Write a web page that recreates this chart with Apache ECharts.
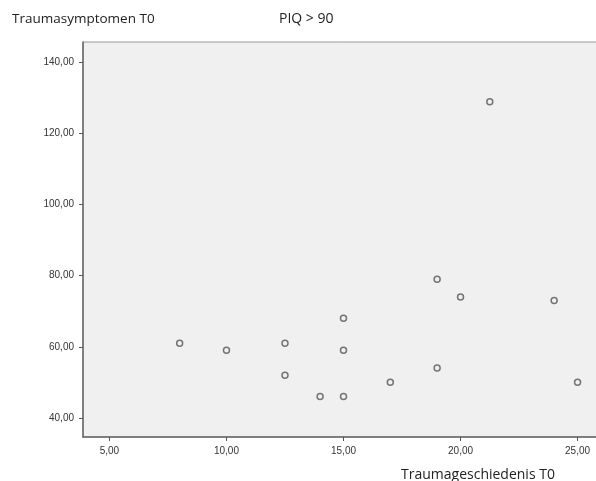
<!DOCTYPE html>
<html>
<head>
<meta charset="utf-8">
<script src="https://cdn.jsdelivr.net/npm/echarts@6/dist/echarts.min.js"></script>
<style>
  html, body { margin: 0; padding: 0; background: #fff; overflow: hidden; }
  #chart { width: 604px; height: 481px; }
</style>
</head>
<body>
<div id="chart"></div>
<script>
// Traumageschiedenis T0 (x) vs Traumasymptomen T0 (y), PIQ > 90
var geschiedenis = [8, 10, 12.5, 12.5, 14, 15, 15, 15, 17, 19, 19, 20, 21.25, 24, 25];
var symptomen = [61, 59, 61, 52, 46, 68, 59, 46, 50, 79, 54, 74, 129, 73, 50];
var xTicks = [5, 10, 15, 20, 25];
var yTicks = [40, 60, 80, 100, 120, 140];

function fmt(v) {
  return v.toFixed(2).replace('.', ',');
}

var points = geschiedenis.map(function (x, i) {
  return [x, symptomen[i]];
});

var chart = echarts.init(document.getElementById('chart'));

// plot goes past the right edge of the window, as in the original
chart.setOption({
  animation: false,
  backgroundColor: '#fff',
  title: [
    {
      text: 'Traumasymptomen T0',
      left: 12, top: 12, padding: 0,
      textStyle: { fontFamily: 'Open Sans', fontSize: 13.5, fontWeight: 'normal', color: '#222' }
    },
    {
      text: 'PIQ > 90',
      left: 279, top: 12, padding: 0,
      textStyle: { fontFamily: 'Open Sans', fontSize: 14, fontWeight: 'normal', color: '#222' }
    },
    {
      text: 'Traumageschiedenis T0',
      left: 401, top: 468, padding: 0,
      textStyle: { fontFamily: 'Open Sans', fontSize: 14, fontWeight: 'normal', color: '#222' }
    }
  ],
  grid: {
    show: true,
    left: 83,
    top: 42,
    right: 0,
    bottom: 44,
    backgroundColor: '#f0f0f0',
    borderColor: '#999',
    borderWidth: 1
  },
  xAxis: {
    type: 'value',
    min: 3.87,
    max: 26.13,
    splitLine: { show: false },
    axisLine: { show: true, onZero: false, lineStyle: { color: '#666', width: 1.5 } },
    axisTick: { show: true, customValues: xTicks, length: 4, lineStyle: { color: '#555' } },
    axisLabel: {
      customValues: xTicks,
      formatter: fmt,
      margin: 9,
      fontFamily: 'Liberation Sans',
      fontSize: 10,
      color: '#333'
    }
  },
  yAxis: {
    type: 'value',
    min: 34.6,
    max: 145.8,
    splitLine: { show: false },
    axisLine: { show: true, onZero: false, lineStyle: { color: '#666', width: 1.5 } },
    axisTick: { show: true, customValues: yTicks, length: 4, lineStyle: { color: '#555' } },
    axisLabel: {
      customValues: yTicks,
      formatter: fmt,
      margin: 9,
      fontFamily: 'Liberation Sans',
      fontSize: 10,
      color: '#333'
    }
  },
  series: [{
    type: 'scatter',
    data: points,
    symbol: 'circle',
    symbolSize: 6,
    itemStyle: {
      color: '#f0f0f0',
      borderColor: '#555',
      borderWidth: 1.5
    }
  }]
});
</script>
</body>
</html>
